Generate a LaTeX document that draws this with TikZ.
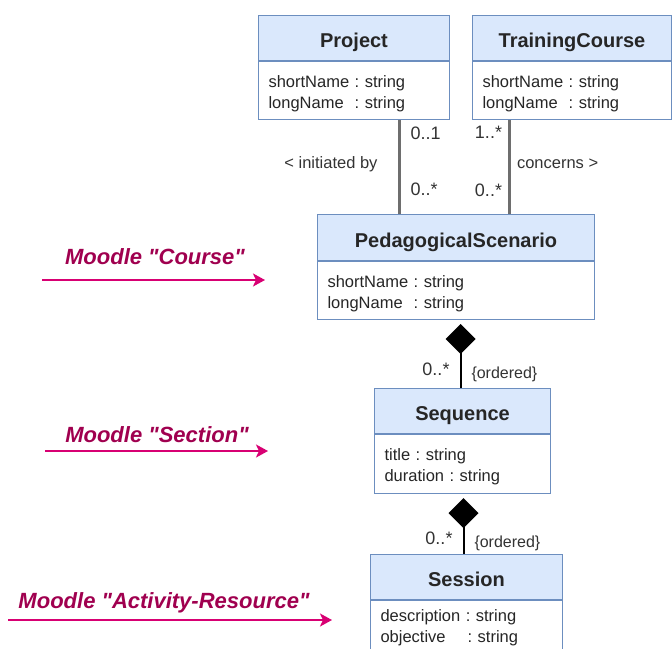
\documentclass[tikz,border=0pt]{standalone}
\usepackage{fontspec}
\setmainfont{Liberation Sans}
\usetikzlibrary{arrows.meta,positioning}

\definecolor{hdrfill}{HTML}{DAE8FC}
\definecolor{hdrline}{HTML}{6C8EBF}
\definecolor{assocgray}{HTML}{6E6E6E}
\definecolor{moodlepink}{HTML}{D80073}
\definecolor{moodletext}{HTML}{A0004F}
\frenchspacing

\begin{document}
\begin{tikzpicture}[x=1pt,y=-1pt,
    head/.style={draw=hdrline,fill=hdrfill,line width=1pt,anchor=north west,minimum width=#1,minimum height=45pt,inner sep=0pt,text height=19pt,text depth=0pt,text=black!85,font=\fontsize{20}{24}\selectfont\bfseries},
    attrs/.style={draw=hdrline,fill=white,line width=1pt,text width=#1,inner xsep=10pt,inner ysep=0pt,text height=18pt,align=left,text=black!85,font=\fontsize{16.5}{21}\selectfont},
    assoc/.style={draw=assocgray,line width=3pt},
    compo/.style={draw=black,line width=2pt,-{Diamond[length=30pt,width=30pt]},shorten >=4pt},
    mult/.style={inner sep=0pt,text=black!80,font=\fontsize{18}{20}\selectfont},
    assoclbl/.style={inner sep=0pt,text=black!80,font=\fontsize{16.5}{20}\selectfont},
    ordlbl/.style={inner sep=0pt,text=black!80,font=\fontsize{16}{20}\selectfont},
    moodlearrow/.style={draw=moodlepink,line width=2pt,-{Stealth[length=12pt,width=13pt,inset=3pt]}},
    moodlelbl/.style={inner sep=0pt,text=moodletext,font=\fontsize{22}{26}\selectfont\bfseries\itshape}]
  \clip (0,0) rectangle (672,648);

  \node[head=191pt] (projHead) at (258,15) {Project};
  \node[attrs=171pt,minimum height=58pt,below=0pt of projHead] (projAttr) {shortName : string\\longName\ \ : string};
  \node[head=199pt] (trainHead) at (472,15) {TrainingCourse};
  \node[attrs=179pt,minimum height=58pt,below=0pt of trainHead] (trainAttr) {shortName : string\\longName\ \ : string};
  \node[head=277pt,minimum height=46pt] (pedHead) at (317,214) {PedagogicalScenario};
  \node[attrs=257pt,minimum height=58pt,below=0pt of pedHead] (pedAttr) {shortName : string\\longName\ \ : string};
  \node[head=176pt] (seqHead) at (374,388) {Sequence};
  \node[attrs=156pt,minimum height=59pt,below=0pt of seqHead] (seqAttr) {title : string\\duration : string};
  \node[head=192pt] (sesHead) at (370,554) {Session};
  \node[attrs=172pt,minimum height=62pt,text height=4pt,below=0pt of sesHead] (sesAttr) {description : string\\objective\ \ \ \ : string};

  \draw[assoc] ([xshift=45pt]projAttr.south) -- ([xshift=45pt]projAttr.south |- pedHead.north)
    node[mult,pos=0,anchor=north west,xshift=10pt,yshift=-5pt] {0..1}
    node[mult,pos=1,anchor=south west,xshift=10pt,yshift=17pt] {0..*}
    node[assoclbl,midway,anchor=east,xshift=-20pt,yshift=3pt] {< initiated by};
  \draw[assoc] ([xshift=-62.5pt]trainAttr.south) -- ([xshift=-62.5pt]trainAttr.south |- pedHead.north)
    node[mult,pos=0,anchor=north east,xshift=-6pt,yshift=-5pt] {1..*}
    node[mult,pos=1,anchor=south east,xshift=-6pt,yshift=16pt] {0..*}
    node[assoclbl,midway,anchor=west,xshift=6pt,yshift=3pt] {concerns >};

  \draw[compo] ([xshift=-2pt]seqHead.north) -- ([xshift=-2pt]seqHead.north |- pedAttr.south)
    node[mult,pos=0,anchor=south east,xshift=-10pt,yshift=11pt] {0..*}
    node[ordlbl,pos=0,anchor=base west,xshift=10pt,yshift=10pt] {\{ordered\}};
  \draw[compo] ([xshift=-3pt]sesHead.north) -- ([xshift=-3pt]sesHead.north |- seqAttr.south)
    node[mult,pos=0,anchor=south east,xshift=-10pt,yshift=8pt] {0..*}
    node[ordlbl,pos=0,anchor=base west,xshift=10pt,yshift=7pt] {\{ordered\}};

  \foreach \nm/\xa/\xb/\ya/\xt/\yt/\txt in {crs/42/265/280/155/257/Course,
      sec/45/268/451/157/435/Section, act/8/332/620/164/603/Activity-Resource}
  {\coordinate (\nm Start) at (\xa,\ya);
   \coordinate (\nm End) at (\xb,\ya);
   \draw[moodlearrow] (\nm Start) -- (\nm End);
   \node[moodlelbl] (\nm Lbl) at (\xt,\yt) {Moodle \textquotedbl\txt\textquotedbl};}
\end{tikzpicture}
\end{document}
